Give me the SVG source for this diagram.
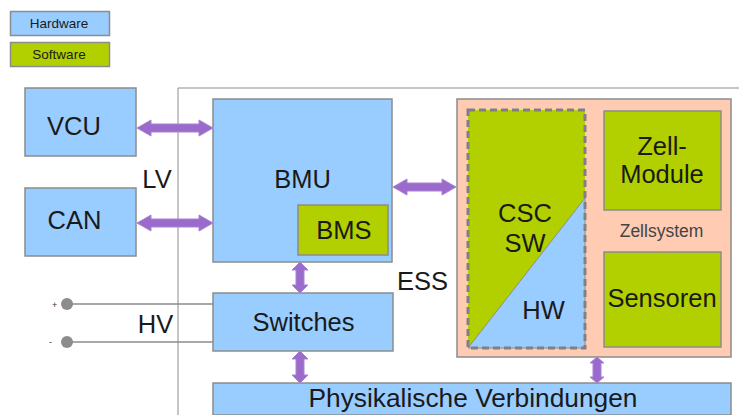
<svg xmlns="http://www.w3.org/2000/svg" width="739" height="415" viewBox="0 0 739 415">
<defs>
<style>
.hw{fill:#99ccff;stroke:#8c8c8c;stroke-width:1.5}
.sw{fill:#b2cf00;stroke:#8c8c8c;stroke-width:1.5}
.t{font-family:"Liberation Sans",Arial,sans-serif;fill:#1a1a1a;text-anchor:middle}
.big{font-size:25.5px}
.arr{fill:#9b6bcc;stroke:#a883d6;stroke-width:1}
.ln{stroke:#8c8c8c;stroke-width:1.5;fill:none}
</style>
</defs>
<rect width="739" height="415" fill="#ffffff"/>
<g id="legend-hardware"><rect class="hw" x="10.5" y="11.5" width="99" height="24"/><text class="t" x="59" y="28" font-size="13.5" fill="#333">Hardware</text></g>
<g id="legend-software"><rect class="sw" x="10.5" y="42.5" width="99" height="24"/><text class="t" x="59" y="59" font-size="13.5" fill="#333">Software</text></g>
<g id="frame"><path d="M178 415V88H739" stroke="#8c8c8c" stroke-width="1" fill="none"/></g>
<g id="vcu"><rect class="hw" x="25" y="88" width="111" height="68"/><text class="t big" x="74" y="135">VCU</text></g>
<g id="can"><rect class="hw" x="25" y="188" width="111" height="68"/><text class="t big" x="74.5" y="229">CAN</text></g>
<g id="lv"><text class="t big" x="157" y="188">LV</text></g>
<g id="bmu"><rect class="hw" x="213" y="99" width="179" height="163"/><text class="t big" x="302.5" y="188">BMU</text></g>
<g id="bms"><rect class="sw" x="298" y="205" width="90" height="50"/><text class="t big" x="344" y="239">BMS</text></g>
<g id="ess"><text class="t big" x="422.5" y="290">ESS</text></g>
<g id="switches"><rect class="hw" x="213" y="293" width="180" height="58"/><text class="t big" x="303.5" y="331">Switches</text></g>
<g id="hv"><text class="t big" x="155.5" y="333">HV</text></g>
<g id="physik"><rect class="hw" x="213" y="383" width="518" height="32"/><text class="t" x="473" y="407" font-size="26.3">Physikalische Verbindungen</text></g>
<g id="zellsystem">
<rect x="457" y="99" width="274" height="258" fill="#ffccb3" stroke="#8c8c8c" stroke-width="1.5"/>
<text class="t" x="661.5" y="237" font-size="17.5" style="fill:#444">Zellsystem</text>
</g>
<g id="csc">
<polygon points="468,110 585,110 585,198 468,348" fill="#b2cf00"/>
<polygon points="585,198 585,348 468,348" fill="#99ccff" stroke="#8c8c8c" stroke-width="1"/>
<rect x="468" y="110" width="117" height="238" fill="none" stroke="#808080" stroke-width="3" stroke-dasharray="7,4"/>
<text class="t big" x="525" y="222">CSC</text>
<text class="t big" x="525" y="252">SW</text>
<text class="t big" x="543.5" y="319">HW</text>
</g>
<g id="zell-module"><rect class="sw" x="604" y="111" width="117" height="99"/><text class="t big" x="662" y="155">Zell-</text><text class="t big" x="662" y="183">Module</text></g>
<g id="sensoren"><rect class="sw" x="604" y="252" width="117" height="95"/><text class="t big" x="662" y="307">Sensoren</text></g>
<g id="connectors">
<path class="ln" d="M67 304H213M67 342H213"/>
<circle cx="67" cy="304" r="6" fill="#8c8c8c"/>
<circle cx="67" cy="342" r="6" fill="#8c8c8c"/>
<text x="52" y="308" font-family="Liberation Sans,Arial,sans-serif" font-size="9" fill="#333">+</text>
<text x="49" y="345" font-family="Liberation Sans,Arial,sans-serif" font-size="9" fill="#333">-</text>
<polygon class="arr" points="137,128 151,120 151,124 199,124 199,120 213,128 199,136 199,132 151,132 151,136"/>
<polygon class="arr" points="137,223 151,215 151,219 199,219 199,215 213,223 199,231 199,227 151,227 151,231"/>
<polygon class="arr" points="393,187 407,179 407,183 442,183 442,179 456,187 442,195 442,191 407,191 407,195"/>
<polygon class="arr" points="300,262 308,270 304,270 304,285 308,285 300,293 292,285 296,285 296,270 292,270"/>
<polygon class="arr" points="300,351 308,359 304,359 304,375 308,375 300,383 292,375 296,375 296,359 292,359"/>
<polygon class="arr" points="597,357 604,363 601,363 601,377 604,377 597,383 590,377 593,377 593,363 590,363"/>
</g>
</svg>
